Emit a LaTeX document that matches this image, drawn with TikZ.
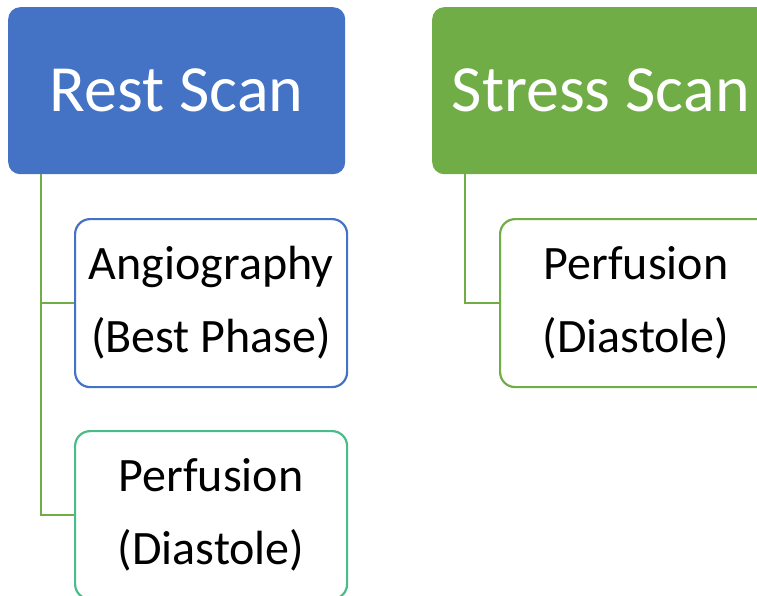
\documentclass[tikz,border=0pt]{standalone}
\usepackage{fontspec}
\setmainfont{Carlito}
\definecolor{restblue}{HTML}{4472C4}
\definecolor{stressgreen}{HTML}{70AD47}
\definecolor{tealgreen}{HTML}{4CBB8A}
\begin{document}
\begin{tikzpicture}[x=1pt,y=-1pt,
  titlebox/.style={rectangle, rounded corners=12pt, inner sep=0pt, minimum width=337pt, minimum height=167pt, text=white, anchor=north west, font=\fontsize{66}{72}\selectfont},
  childbox/.style={rectangle, rounded corners=15pt, draw, line width=2.2pt, fill=white, inner sep=0pt, minimum width=272pt, minimum height=168pt, anchor=north west, align=center, font=\fontsize{48}{73}\selectfont},
  conn/.style={draw=stressgreen, line width=2.2pt}]
\useasboundingbox (0,0) rectangle (757,595);
\node[titlebox, fill=restblue] (rest) at (8,7) {Rest Scan};
\node[titlebox, fill=stressgreen] (stress) at (432,7) {Stress Scan};
\node[childbox, draw=restblue] (angio) at (74,218) {Angiography\\(Best Phase)};
\node[childbox, draw=tealgreen] (perf1) at (74,430) {Perfusion\\(Diastole)};
\node[childbox, draw=stressgreen] (perf2) at (499,218) {Perfusion\\(Diastole)};
\draw[conn] (rest.south west) ++(33,0) |- (angio.west);
\draw[conn] (rest.south west) ++(33,0) |- (perf1.west);
\draw[conn] (stress.south west) ++(33,0) |- (perf2.west);
\end{tikzpicture}
\end{document}
